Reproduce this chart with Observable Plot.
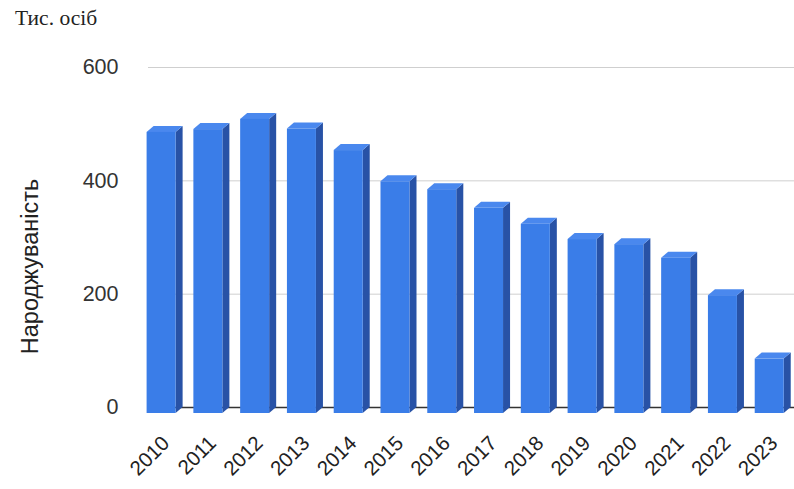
<!DOCTYPE html>
<html><head><meta charset="utf-8">
<script src="https://cdn.jsdelivr.net/npm/d3@7"></script>
<script src="https://cdn.jsdelivr.net/npm/@observablehq/plot@0.6"></script>
<style>
body{margin:0;background:#fff;}
#wrap{position:relative;width:794px;height:489px;overflow:hidden;}
#unit{position:absolute;left:15px;top:6px;font-family:"Liberation Serif","DejaVu Serif",serif;font-size:21.5px;color:#222;white-space:nowrap;}
</style></head><body>
<div id="wrap"><div id="unit"></div></div>
<script>
const years = [2010,2011,2012,2013,2014,2015,2016,2017,2018,2019,2020,2021,2022,2023];
const births = [496,501,519,502,464,409,395,362,334,307,298,274,208,96];
const yTicks = [0,200,400,600];
const gridTicks = [200,400,600];
const unitLabel = "Тис. осіб";
const yLabel = "Народжуваність";

document.getElementById("unit").textContent = unitLabel;

const hw = 0.31, depth = 0.15, lift = 10.6;
const rows = years.map((year, i) => ({year, value: births[i]}));
const side = rows.flatMap(d => [
  {year: d.year, x: d.year + hw, y1: 0, y2: d.value},
  {year: d.year, x: d.year + hw + depth, y1: lift, y2: d.value + lift}
]);
const topFace = rows.flatMap(d => [
  {year: d.year, x: d.year - hw, y1: d.value, y2: d.value},
  {year: d.year, x: d.year - hw + depth, y1: d.value, y2: d.value + lift},
  {year: d.year, x: d.year + hw, y1: d.value, y2: d.value + lift},
  {year: d.year, x: d.year + hw + depth, y1: d.value + lift, y2: d.value + lift}
]);

const chart = Plot.plot({
  width: 794,
  height: 489,
  marginLeft: 148,
  marginRight: 0,
  marginTop: 67,
  marginBottom: 82,
  style: {fontFamily: "'Liberation Sans', Arial, sans-serif", fontSize: "21.5px", color: "#333", background: "#fff"},
  x: {type: "linear", domain: [2009.72, 2023.53], axis: null},
  y: {domain: [0, 600], ticks: yTicks, tickSize: 0, tickPadding: 30, label: null, tickFormat: d => String(d)},
  marks: [
    Plot.ruleY(gridTicks, {stroke: "#cfcfcf", strokeWidth: 1}),
    Plot.ruleY([0], {stroke: "#333", strokeWidth: 1.5}),
    Plot.areaY(side, {x: "x", y1: "y1", y2: "y2", z: "year", fill: "#2852a6", dy: 6}),
    Plot.areaY(topFace, {x: "x", y1: "y1", y2: "y2", z: "year", fill: "#4a88ee", dy: 6}),
    Plot.rect(rows, {x1: d => d.year - hw, x2: d => d.year + hw, y1: d => 0, y2: "value", fill: "#3a7de8", dy: 6}),
    Plot.text(rows, {x: "year", frameAnchor: "bottom", text: d => String(d.year), rotate: -45, textAnchor: "end", dx: 9, dy: 37, fontSize: 20.5, fill: "#222"}),
    Plot.text([yLabel], {frameAnchor: "left", textAnchor: "middle", rotate: -90, dx: -118, dy: 29, fontSize: 23.5, fill: "#222"})
  ]
});
document.getElementById("wrap").appendChild(chart);
</script>
</body></html>
